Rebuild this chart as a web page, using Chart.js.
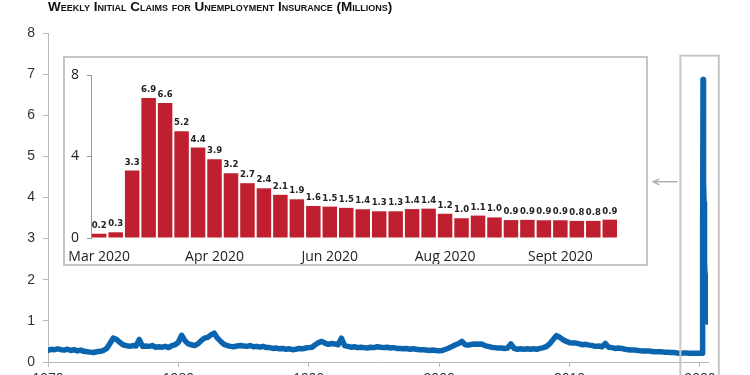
<!DOCTYPE html>
<html><head><meta charset="utf-8">
<script src="https://cdn.jsdelivr.net/npm/chart.js@4"></script>
<style>
html,body{margin:0;padding:0;background:#fff;overflow:hidden;width:750px;height:375px;}
#mainWrap{position:absolute;left:0;top:-6px;width:750px;height:400px;}
#insetWrap{position:absolute;left:63px;top:56px;width:581px;height:206px;border:2px solid #c6c6c6;background:#fff;}
canvas{display:block;}
</style></head><body>
<div id="mainWrap"><canvas id="main" width="750" height="400" style="width:750px;height:400px"></canvas></div>
<div id="insetWrap"><canvas id="inset" width="581" height="206" style="width:581px;height:206px"></canvas></div>
<script>
// ---- data ----
const TITLE = 'Weekly Initial Claims for Unemployment Insurance (Millions)';
const histStartYear = 1970;           // quarterly readings from 1970 Q1
const histClaims = [
  0.28,0.31,0.30,0.32, 0.30,0.29,0.31,0.28, 0.30,0.27,0.29,0.26, 0.25,0.24,0.23,0.25,
  0.26,0.28,0.33,0.45, 0.58,0.55,0.48,0.42, 0.40,0.38,0.40,0.39, 0.55,0.38,0.39,0.38,
  0.40,0.36,0.37,0.36, 0.38,0.35,0.40,0.42, 0.48,0.65,0.52,0.44, 0.42,0.40,0.44,0.52,
  0.58,0.60,0.66,0.70, 0.58,0.50,0.43,0.40, 0.38,0.37,0.39,0.40, 0.39,0.38,0.40,0.37,
  0.38,0.36,0.38,0.35, 0.35,0.33,0.34,0.32, 0.33,0.31,0.32,0.30, 0.31,0.33,0.32,0.34,
  0.35,0.36,0.42,0.47, 0.50,0.46,0.43,0.45, 0.44,0.42,0.58,0.40, 0.38,0.36,0.37,0.35,
  0.36,0.35,0.34,0.36, 0.35,0.37,0.36,0.35, 0.36,0.34,0.35,0.33, 0.33,0.32,0.33,0.31,
  0.32,0.31,0.30,0.30, 0.29,0.28,0.29,0.28, 0.27,0.28,0.31,0.34, 0.38,0.42,0.45,0.50,
  0.42,0.41,0.43,0.44, 0.43,0.44,0.40,0.38, 0.36,0.35,0.34,0.34, 0.33,0.34,0.44,0.33,
  0.31,0.32,0.31,0.32, 0.31,0.32,0.31,0.33, 0.35,0.38,0.45,0.55, 0.64,0.60,0.54,0.50,
  0.47,0.46,0.46,0.44, 0.42,0.43,0.41,0.40, 0.38,0.39,0.37,0.45, 0.36,0.35,0.33,0.34,
  0.33,0.31,0.30,0.29, 0.29,0.28,0.27,0.27, 0.27,0.26,0.25,0.25, 0.25,0.24,0.24,0.23,
  0.23,0.22,0.21,0.22, 0.22,0.21,0.21,0.21, 0.21
];
const weeks2020Start = 2020.18;       // week of Mar 7, 2020
const claims2020 = [0.21,0.28,3.31,6.87,6.62,5.24,4.44,3.87,3.18,2.69,2.44,2.12,1.90,1.57,1.54,1.48,
                    1.41,1.31,1.31,1.42,1.44,1.19,0.97,1.10,1.01,0.88,0.89,0.87,0.87,0.84,0.84,0.90];
const tickLabels2020 = ['Mar 2020','Apr 2020','Jun 2020','Aug 2020','Sept 2020'];
const tickIndex2020 = [0,7,14,21,28];
const xTickYears = [1970,1980,1990,2000,2010,2020];
const mainYTicks = [0,1,2,3,4,5,6,7,8];
const zoomBox = {from:2018.5, to:2021.45, top:7.45, arrowAt:4.38};

// ---- build ----
const mainPoints = histClaims.map((v,i)=>({x:histStartYear+i/4, y:v}))
  .concat(claims2020.map((v,i)=>({x:weeks2020Start+i*7/365.25, y:v})));
const weekLabels = claims2020.map((_,i)=>{const k=tickIndex2020.indexOf(i);return k>=0?tickLabels2020[k]:'';});

const FONT = '"Liberation Sans", Arial, sans-serif';
const decorPlugin = {
  id:'decor',
  afterDatasetsDraw(chart){
    const ctx = chart.ctx, xs = chart.scales.x, ys = chart.scales.y;
    const l = xs.getPixelForValue(zoomBox.from), r = xs.getPixelForValue(zoomBox.to);
    const t = ys.getPixelForValue(zoomBox.top);
    ctx.save();
    ctx.strokeStyle = '#c6c6c6'; ctx.lineWidth = 2;
    ctx.strokeRect(l, t, r-l, chart.height - t + 10);
    const ay = ys.getPixelForValue(zoomBox.arrowAt);
    ctx.strokeStyle = '#b0b0b0'; ctx.lineWidth = 1.5;
    ctx.beginPath();
    ctx.moveTo(l-3, ay); ctx.lineTo(l-27, ay);
    ctx.moveTo(l-21, ay-3); ctx.lineTo(l-27, ay); ctx.lineTo(l-21, ay+3);
    ctx.stroke();
    ctx.restore();
  }
};

new Chart(document.getElementById('main'), {
  type:'line',
  data:{datasets:[{data:mainPoints, borderColor:'#0b65ae', borderWidth:5.5, pointRadius:0, tension:0,
    borderJoinStyle:'round', borderCapStyle:'round', fill:false}]},
  options:{
    responsive:false, animation:false, events:[],
    layout:{padding:{left:0,right:42,top:0,bottom:0}},
    plugins:{
      legend:{display:false}, tooltip:{enabled:false},
      title:{display:true, text:TITLE, align:'start', fullSize:false, color:'#111',
        font:{family:FONT, size:13.5, weight:'small-caps bold', lineHeight:1.2}, padding:{top:5.5,bottom:17.3}}
    },
    scales:{
      x:{type:'linear', min:1970, max:2020.62,
        afterBuildTicks:s=>{s.ticks = xTickYears.map(v=>({value:v}));},
        afterFit:s=>{s.height=32; s.paddingLeft=0; s.paddingRight=0;},
        grid:{display:true, drawOnChartArea:false, drawTicks:true, tickLength:5, color:'#b8b8b8'},
        border:{display:true, color:'#b8b8b8', width:1},
        ticks:{padding:4, color:'#333', font:{family:FONT,size:14}, callback:v=>String(v), maxRotation:0, autoSkip:false}},
      y:{min:0, max:8,
        afterBuildTicks:s=>{s.ticks = mainYTicks.map(v=>({value:v}));},
        afterFit:s=>{s.width=48; s.paddingTop=0; s.paddingBottom=0;},
        grid:{drawOnChartArea:false, drawTicks:true, tickLength:5, color:'#b8b8b8'},
        border:{display:true, color:'#b8b8b8', width:1},
        ticks:{padding:8, color:'#333', font:{family:FONT,size:14}}}
    }
  },
  plugins:[decorPlugin]
});

const barLabelPlugin = {
  id:'barLabels',
  afterDatasetsDraw(chart){
    const ctx = chart.ctx, meta = chart.getDatasetMeta(0);
    ctx.save();
    ctx.font = 'bold 8.5px "DejaVu Sans", sans-serif';
    ctx.fillStyle = '#222'; ctx.textAlign = 'center'; ctx.textBaseline = 'alphabetic';
    meta.data.forEach((bar,i)=>{ ctx.fillText(claims2020[i].toFixed(1), bar.x, bar.y-6); });
    ctx.restore();
  }
};

new Chart(document.getElementById('inset'), {
  type:'bar',
  data:{labels:weekLabels, datasets:[{data:claims2020, backgroundColor:'#c01f2f', barPercentage:0.88, categoryPercentage:1}]},
  options:{
    responsive:false, animation:false, events:[],
    layout:{padding:{left:0,right:28,top:17,bottom:0}},
    plugins:{legend:{display:false}, tooltip:{enabled:false}},
    scales:{
      x:{grid:{display:false}, border:{display:false}, afterFit:s=>{s.height=26; s.paddingLeft=0; s.paddingRight=0;},
        ticks:{autoSkip:false, maxRotation:0, minRotation:0, padding:3, color:'#222', font:{family:'"Open Sans", sans-serif', size:14}}},
      y:{min:0, max:8, afterFit:s=>{s.width=26; s.paddingTop=0; s.paddingBottom=0;},
        ticks:{stepSize:4, padding:8, color:'#222', font:{family:'"Open Sans", sans-serif', size:14}},
        grid:{drawOnChartArea:false, drawTicks:true, tickLength:4, color:'#999'},
        border:{display:true, color:'#999', width:1}}
    }
  },
  plugins:[barLabelPlugin]
});
</script>
</body></html>
